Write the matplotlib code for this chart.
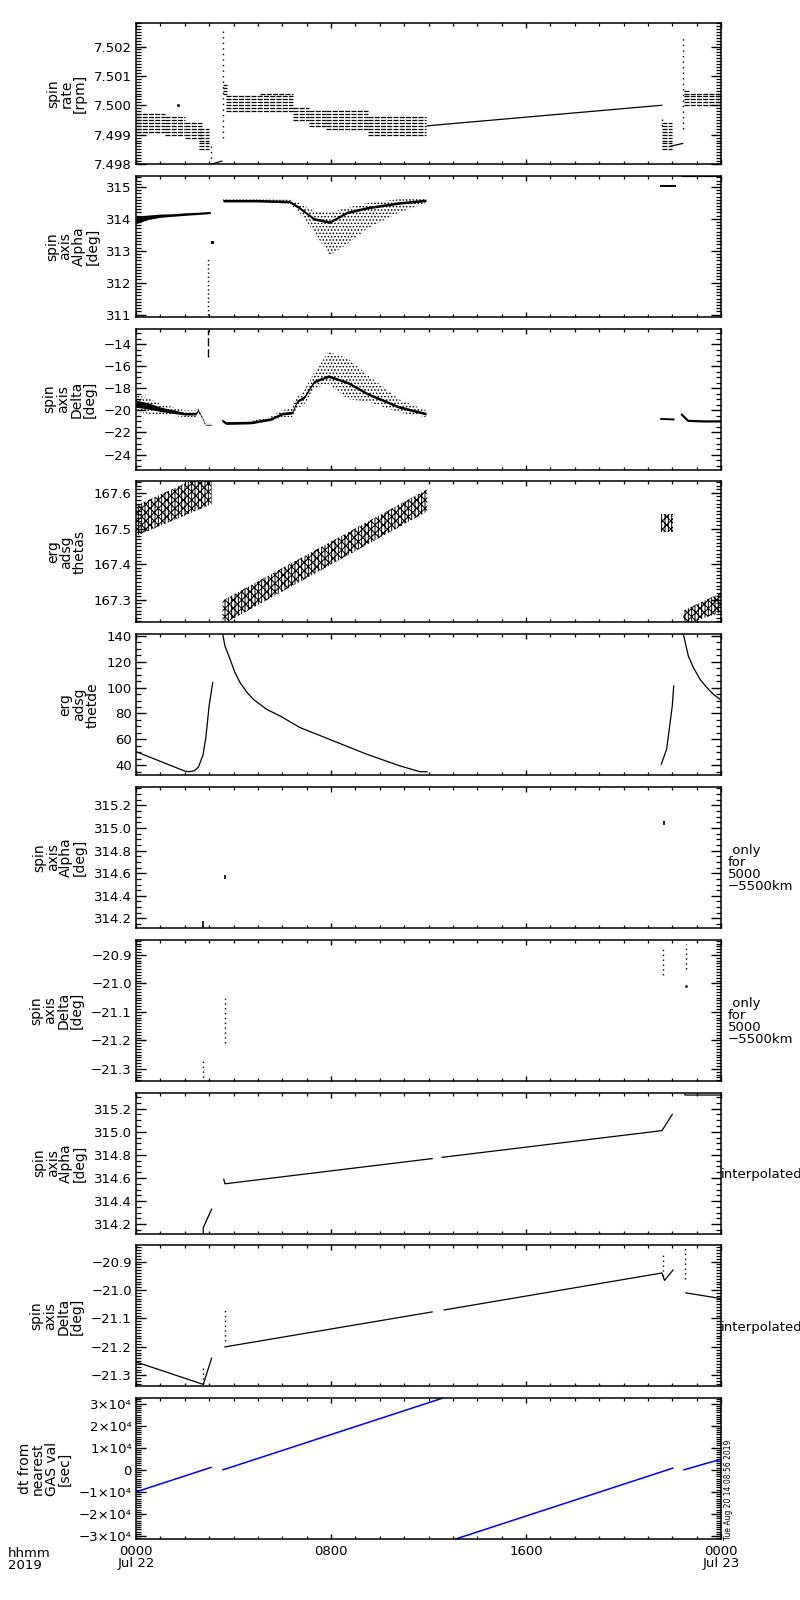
import numpy as np
import matplotlib
matplotlib.use('Agg')
import matplotlib.pyplot as plt
from matplotlib.ticker import MultipleLocator, FixedLocator, FuncFormatter

# ---- time axis: hours from 2019-07-22 00:00 ----
xtick_pos = [0, 8, 16, 24]
xtick_lab = ['0000\nJul 22', '0800', '1600', '0000\nJul 23']

# ---- panel 1: spin rate [rpm], quantised dashes (t0, t1, levels) ----
rate_blocks = [
    (0.00, 1.20, [7.4991, 7.4992, 7.4993, 7.4994, 7.4995, 7.4996, 7.4997]),
    (1.20, 2.00, [7.4990, 7.4991, 7.4992, 7.4993, 7.4994, 7.4995, 7.4996]),
    (2.00, 2.70, [7.4989, 7.4990, 7.4991, 7.4992, 7.4993, 7.4994]),
    (2.60, 3.00, [7.4985, 7.4986, 7.4987, 7.4988, 7.4989, 7.4990, 7.4991, 7.4992]),
    (3.57, 3.75, [7.5004, 7.5005, 7.5006, 7.5007]),
    (3.70, 6.44, [7.4998, 7.4999, 7.5000, 7.5001, 7.5002, 7.5003]),
    (5.10, 6.44, [7.5004]),
    (6.44, 7.10, [7.4995, 7.4996, 7.4997, 7.4998, 7.4999]),
    (7.10, 7.80, [7.4993, 7.4994, 7.4995, 7.4996, 7.4997, 7.4998]),
    (7.80, 9.50, [7.4992, 7.4993, 7.4994, 7.4995, 7.4996, 7.4997, 7.4998]),
    (9.50, 11.90, [7.4990, 7.4991, 7.4992, 7.4993, 7.4994, 7.4995, 7.4996]),
    (21.58, 22.00, [7.4985, 7.4986, 7.4987, 7.4988, 7.4989, 7.4990, 7.4991, 7.4992, 7.4993, 7.4994]),
    (22.50, 22.70, [7.5005]),
    (22.50, 24.00, [7.5000, 7.5001, 7.5002, 7.5003, 7.5004]),
]
rate_vdots = [(3.08, 7.4980, 7.4986), (3.57, 7.4989, 7.50263),
              (21.58, 7.4993, 7.4996), (22.43, 7.4992, 7.5023)]
rate_line_t = [[3.12, 3.52], [11.95, 21.57], [21.91, 22.43]]
rate_line_v = [[7.4980, 7.4981], [7.4993, 7.5000], [7.4986, 7.4987]]
rate_dot_t = [1.72]
rate_dot_v = [7.5000]

# ---- panel 2: spin axis alpha [deg] ----
alA_t = [0.0, 0.5, 1.0, 1.5, 2.0, 2.5, 3.05]
alA_c = [313.97, 314.05, 314.10, 314.12, 314.15, 314.17, 314.20]
alA_w = [0.12, 0.07, 0.05, 0.04, 0.04, 0.035, 0.035]
alB_t = [3.57, 5.0, 6.3, 6.7, 7.3, 7.95, 8.65, 9.5, 10.8, 11.9]
alB_c = [314.57, 314.57, 314.54, 314.35, 314.00, 313.90, 314.20, 314.35, 314.50, 314.58]
alB_lo = [314.53, 314.53, 314.48, 314.20, 313.60, 312.85, 313.20, 313.70, 314.20, 314.50]
alB_hi = [314.61, 314.61, 314.60, 314.50, 314.25, 314.20, 314.35, 314.50, 314.62, 314.65]
alC_t = [21.55, 22.10]
alC_v = [315.02, 315.02]
alD_t = [22.45, 24.0]
alD_v = [315.33, 315.33]
al_vline = (2.95, 311.0, 312.75)
al_dot = (3.10, 313.27)

# ---- panel 3: spin axis delta [deg] ----
deA_t = [0.0, 0.5, 1.0, 1.5, 2.0, 2.45, 2.55, 2.7, 2.85, 3.1]
deA_c = [-19.4, -19.6, -19.9, -20.1, -20.3, -20.3, -20.0, -20.6, -21.3, -21.3]
deA_w = [0.8, 0.7, 0.5, 0.4, 0.3, 0.3, 0.2, 0.12, 0.08, 0.08]
deB_t = [3.52, 3.7, 4.7, 5.5, 6.0, 6.4, 6.6, 6.9, 7.3, 7.9, 8.7, 9.5, 10.8, 11.9]
deB_c = [-20.9, -21.15, -21.1, -20.8, -20.3, -20.2, -19.2, -18.8, -17.4, -16.9, -17.5, -18.5, -19.7, -20.3]
deB_lo = [-21.0, -21.25, -21.25, -21.0, -20.6, -20.6, -19.8, -19.5, -18.0, -17.6, -19.0, -19.2, -20.2, -20.6]
deB_hi = [-20.8, -21.05, -20.95, -20.6, -20.0, -19.8, -18.8, -18.2, -16.6, -14.7, -15.3, -16.8, -19.0, -20.0]
deC_t = [21.55, 22.05]
deC_v = [-20.78, -20.82]
deD_t = [22.40, 22.65, 23.3, 24.0]
deD_v = [-20.4, -20.95, -21.0, -21.0]
de_vline = (2.95, -15.2, -12.7)

# ---- panel 4: erg adsg thetas ----
thsA_t = [0.0, 3.1]
thsA_lo = [167.479, 167.568]
thsA_hi = [167.564, 167.66]
thsB_t = [3.55, 11.95]
thsB_lo = [167.231, 167.548]
thsB_hi = [167.298, 167.61]
thsC_t = [21.55, 22.05]
thsC_lo = [167.49, 167.49]
thsC_hi = [167.54, 167.54]
thsD_t = [22.45, 24.0]
thsD_lo = [167.23, 167.265]
thsD_hi = [167.27, 167.32]

# ---- panel 5: erg adsg thetde ----
thdA_t = [0.0, 0.8, 1.6, 2.0, 2.2, 2.4, 2.56, 2.75, 2.87, 3.0, 3.15]
thdA_v = [50.5, 44.5, 38.5, 35.5, 35.0, 35.8, 38.5, 48.0, 62.0, 86.0, 104.0]
thdB_t = [3.50, 3.56, 3.65, 3.86, 4.06, 4.27, 4.54, 4.81, 5.36, 5.91, 6.73, 8.10, 9.47, 10.83, 11.65, 11.94]
thdB_v = [146.0, 141.2, 132.1, 121.9, 111.6, 103.9, 96.6, 91.0, 83.2, 78.1, 69.1, 58.8, 48.5, 39.5, 35.0, 35.0]
thdC_t = [21.55, 21.77, 21.93, 22.00, 22.06]
thdC_v = [40.8, 52.4, 75.5, 85.8, 101.2]
thdD_t = [22.42, 22.46, 22.66, 22.87, 23.14, 23.42, 23.69, 23.96]
thdD_v = [146.0, 141.0, 124.4, 115.4, 106.4, 100.0, 94.8, 91.0]

# ---- panel 6/7: only for 5000-5500 km (t, lo, hi) ----
al5_marks = [(2.76, 314.10, 314.18), (3.65, 314.55, 314.58), (21.65, 315.03, 315.06)]
de5_marks = [(2.76, -21.345, -21.27), (3.65, -21.21, -21.05),
             (21.64, -20.97, -20.88), (22.56, -20.95, -20.86)]
de5_dot = (22.56, -21.01)

# ---- panel 8: alpha interpolated ----
alI_segs_t = [[2.76, 2.76, 3.10], [3.60, 3.65, 12.15], [12.56, 21.58, 22.00], [22.50, 22.52, 24.0]]
alI_segs_v = [[314.10, 314.17, 314.33], [314.59, 314.55, 314.768], [314.779, 315.01, 315.15],
              [315.34, 315.318, 315.318]]

# ---- panel 9: delta interpolated ----
deI_segs_t = [[0.0, 2.76, 3.10], [3.65, 12.15], [12.65, 21.58, 21.68, 22.03], [22.56, 24.0]]
deI_segs_v = [[-21.253, -21.332, -21.24], [-21.20, -21.077], [-21.07, -20.94, -20.966, -20.93],
              [-21.01, -21.03]]
deI_vdots = [(2.76, -21.332, -21.265), (3.65, -21.18, -21.06),
             (21.64, -20.95, -20.877), (22.53, -20.96, -20.853)]

# ---- panel 10: dt from nearest GAS value [sec] ----
dt_segs_t = [[0.0, 3.08], [3.57, 12.57], [13.09, 22.02], [22.48, 24.0]]
dt_segs_v = [[-10000, 1100], [0, 32400], [-31400, 750], [0, 4800]]

# ---- axis set-up per panel ----
ylabels = ['spin\nrate\n[rpm]', 'spin\naxis\nAlpha\n[deg]', 'spin\naxis\nDelta\n[deg]',
           'erg\nadsg\nthetas', 'erg\nadsg\nthetde', 'spin\naxis\nAlpha\n[deg]',
           'spin\naxis\nDelta\n[deg]', 'spin\naxis\nAlpha\n[deg]', 'spin\naxis\nDelta\n[deg]',
           'dt from\nnearest\nGAS val\n[sec]']
ylims = [(7.4980, 7.5028), (310.93, 315.35), (-25.36, -12.6), (167.237, 167.632), (32.3, 141.3),
         (314.115, 315.363), (-21.342, -20.847), (314.119, 315.339), (-21.339, -20.843), (-31400, 32400)]
ymajor = [0.001, 1, 2, 0.1, 20, 0.2, 0.1, 0.2, 0.1, 10000]
yminor = [0.0001, 0.1, 0.5, 0.01, 5, 0.05, 0.01, 0.05, 0.01, 1000]
yfmt = ['%.3f', '%d', '%d', '%.1f', '%d', '%.1f', '%.1f', '%.1f', '%.1f', 'sci']
right_txt = [None, None, None, None, None, ' only\nfor\n5000\n\u22125500km', ' only\nfor\n5000\n\u22125500km',
             'interpolated', 'interpolated', None]

plt.rcParams['font.family'] = ['DejaVu Sans']
plt.rcParams['font.size'] = 9.5
plt.rcParams['axes.linewidth'] = 1.1
plt.rcParams['hatch.linewidth'] = 0.7
plt.rcParams['mathtext.fontset'] = 'dejavusans'


def make_fmt(f):
    if f == 'sci':
        def g(v, pos):
            m = int(round(v / 1e4))
            if m == 0:
                return '0'
            return ('%d\u00d710\u2074' % m).replace('-', '\u2212')
        return FuncFormatter(g)
    return FuncFormatter(lambda v, pos: (f % v).replace('-', '\u2212'))


fig = plt.figure(figsize=(8, 16), dpi=100)
axes = []
for i in range(10):
    top = 23 + i * 152.8
    ax = fig.add_axes([136 / 800, 1 - (top + 141) / 1600, 585 / 800, 141 / 1600])
    ax.set_xlim(0, 24)
    ax.set_ylim(*ylims[i])
    ax.xaxis.set_major_locator(FixedLocator(xtick_pos))
    ax.xaxis.set_minor_locator(MultipleLocator(1))
    ax.yaxis.set_major_locator(MultipleLocator(ymajor[i]))
    ax.yaxis.set_minor_locator(MultipleLocator(yminor[i]))
    ax.yaxis.set_major_formatter(make_fmt(yfmt[i]))
    ax.tick_params(axis='both', which='both', direction='in', top=True, right=True, pad=3)
    ax.tick_params(axis='x', which='major', length=3.5, width=1)
    ax.tick_params(axis='x', which='minor', length=2, width=0.9)
    ax.tick_params(axis='y', which='major', length=7, width=1)
    ax.tick_params(axis='y', which='minor', length=3.8, width=0.9)
    if i < 9:
        ax.set_xticklabels([])
    else:
        ax.set_xticklabels(xtick_lab, linespacing=0.9)
        ax.tick_params(axis='x', which='major', pad=4)
    ax.set_ylabel(ylabels[i], fontsize=10, linespacing=0.95, labelpad=5)
    if right_txt[i]:
        ax.text(1.0 if right_txt[i] == 'interpolated' else 1.012, 0.42, right_txt[i],
                transform=ax.transAxes, ha='left', va='center', linespacing=0.9)
    axes.append(ax)

lw = 0.9


def cloud(ax, t, c, lo, hi, core_lo, core_hi):
    ax.fill_between(t, lo, hi, facecolor='none', edgecolor='k', hatch='.....', linewidth=0)
    ax.fill_between(t, core_lo, core_hi, color='k', linewidth=0)


# panel 1
ax = axes[0]
for t0, t1, lv in rate_blocks:
    ax.hlines(lv, t0, t1, colors='k', linewidth=0.9, linestyles=(0, (4, 1)))
for t, lo, hi in rate_vdots:
    ax.vlines(t, lo, hi, colors='k', linewidth=1, linestyles=(0, (1, 3)))
for tt, vv in zip(rate_line_t, rate_line_v):
    ax.plot(tt, vv, color='k', lw=lw)
ax.plot(rate_dot_t, rate_dot_v, 'ks', ms=1.0)

# panel 2
ax = axes[1]
cA = np.array(alA_c)
wA = np.array(alA_w)
ax.fill_between(alA_t, cA - wA, cA + wA, color='k', linewidth=0)
cB = np.array(alB_c)
cloud(ax, alB_t, cB, alB_lo, alB_hi, cB - 0.04, cB + 0.04)
ax.plot(alC_t, alC_v, color='k', lw=1.4)
ax.plot(alD_t, alD_v, color='k', lw=1.6)
ax.vlines(al_vline[0], al_vline[1], al_vline[2], colors='k', linewidth=1, linestyles=(0, (1, 2)))
ax.plot([al_dot[0]], [al_dot[1]], 'ks', ms=1.2)

# panel 3
ax = axes[2]
cA = np.array(deA_c)
wA = np.array(deA_w)
cloud(ax, deA_t, cA, cA - wA, cA + wA, cA - wA * 0.4, cA + wA * 0.4)
cB = np.array(deB_c)
cloud(ax, deB_t, cB, deB_lo, deB_hi, cB - 0.12, cB + 0.12)
ax.plot(deC_t, deC_v, color='k', lw=1.4)
ax.plot(deD_t, deD_v, color='k', lw=1.6)
ax.vlines(de_vline[0], de_vline[1], de_vline[2], colors='k', linewidth=1, linestyles=(0, (6, 2)))

# panel 4
ax = axes[3]
for tt, lo, hi in [(thsA_t, thsA_lo, thsA_hi), (thsB_t, thsB_lo, thsB_hi),
                   (thsC_t, thsC_lo, thsC_hi), (thsD_t, thsD_lo, thsD_hi)]:
    ax.fill_between(tt, lo, hi, facecolor='none', edgecolor='k', hatch='|||||xxxx', linewidth=0)

# panel 5
ax = axes[4]
for tt, vv in [(thdA_t, thdA_v), (thdB_t, thdB_v), (thdC_t, thdC_v), (thdD_t, thdD_v)]:
    ax.plot(tt, vv, color='k', lw=lw)

# panel 6
ax = axes[5]
for t, lo, hi in al5_marks:
    ax.vlines(t, lo, hi, colors='k', linewidth=1.2)

# panel 7
ax = axes[6]
for t, lo, hi in de5_marks:
    ax.vlines(t, lo, hi, colors='k', linewidth=1, linestyles=(0, (1, 2.5)))
ax.plot([de5_dot[0]], [de5_dot[1]], 'ks', ms=0.8)

# panel 8
ax = axes[7]
for tt, vv in zip(alI_segs_t, alI_segs_v):
    ax.plot(tt, vv, color='k', lw=lw)

# panel 9
ax = axes[8]
for tt, vv in zip(deI_segs_t, deI_segs_v):
    ax.plot(tt, vv, color='k', lw=lw)
for t, lo, hi in deI_vdots:
    ax.vlines(t, lo, hi, colors='k', linewidth=1, linestyles=(0, (1, 2.5)))

# panel 10
ax = axes[9]
for tt, vv in zip(dt_segs_t, dt_segs_v):
    ax.plot(tt, vv, color='#0000ff', lw=1.1)

fig.text(8 / 800, 1 - 1547 / 1600, 'hhmm\n2019', ha='left', va='top', linespacing=0.9)
fig.text(724 / 800, 1 - 1540 / 1600, 'Tue Aug 20 14:08:56 2019', rotation=90,
         fontsize=5.5, ha='left', va='bottom')

fig.savefig('out.png', dpi=100)
